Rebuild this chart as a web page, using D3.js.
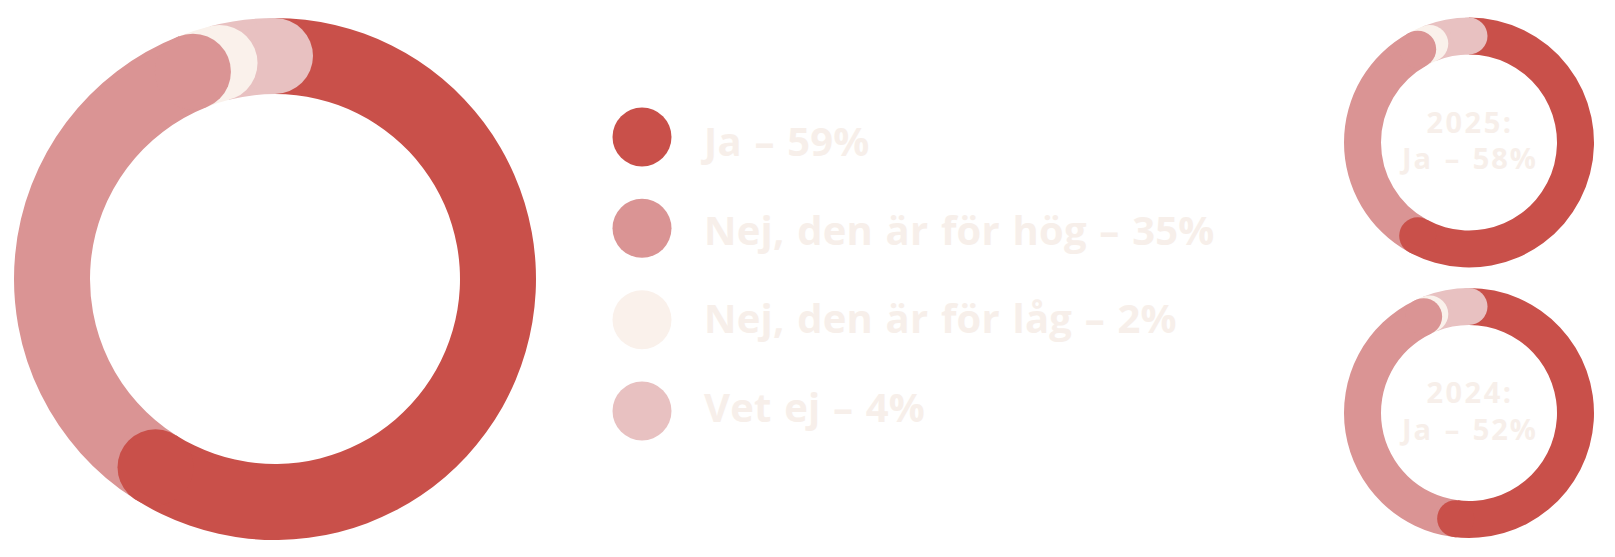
<!DOCTYPE html>
<html><head><meta charset="utf-8">
<script src="https://cdn.jsdelivr.net/npm/d3@7"></script>
<style>body{margin:0;background:#fff}svg{display:block}</style>
</head><body>
<svg id="c" width="1615" height="557"></svg>
<script>
// ---- data ----
const categories = ["Ja", "Nej, den är för hög", "Nej, den är för låg", "Vet ej"];
const mainValues = [59, 35, 2, 4];
const values2025 = [58, 34, 2, 6];
const values2024 = [52, 41, 1, 6];
const smallYears = ["2025:", "2024:"];
const smallJa = ["Ja – 58%", "Ja – 52%"];

// ---- styles ----
const colors = ["#c9504a", "#da9494", "#faf1eb", "#e8c1c1"];
const textColor = "#f7efea";
const font = "'Open Sans', Lato, sans-serif";

const svg = d3.select("#c");
svg.append("rect").attr("width", 1615).attr("height", 557).attr("fill", "#fff");

function donut(cx, cy, rOuter, rInner, values) {
  const g = svg.append("g").attr("transform", `translate(${cx},${cy})`);
  const angle = d3.scaleLinear().domain([0, d3.sum(values)]).range([0, 2 * Math.PI]);
  const ends = Array.from(d3.cumsum(values));
  const segs = values.map((v, i) => ({ i, a0: angle(ends[i] - v), a1: angle(ends[i]) }));
  const arc = d3.arc().innerRadius(rInner).outerRadius(rOuter);
  g.selectAll("path.seg").data(segs).join("path")
    .attr("class", "seg")
    .attr("d", d => arc({ startAngle: d.a0, endAngle: d.a1 }))
    .attr("fill", d => colors[d.i]);
  const rMid = (rOuter + rInner) / 2, capR = (rOuter - rInner) / 2;
  g.selectAll("circle.cap").data(segs.slice().reverse()).join("circle")
    .attr("class", "cap")
    .attr("cx", d => rMid * Math.sin(d.a1))
    .attr("cy", d => -rMid * Math.cos(d.a1))
    .attr("r", capR)
    .attr("fill", d => colors[d.i]);
  return g;
}

// big donut
donut(275, 279, 261, 185, mainValues);

// legend
const legendY = d3.scalePoint().domain(categories).range([137, 411]);
const legendTextY = d3.scalePoint().domain(categories).range([156, 422]);
const lg = svg.append("g");
lg.selectAll("circle").data(categories).join("circle")
  .attr("cx", 642).attr("cy", d => legendY(d)).attr("r", 29.5)
  .attr("fill", (d, i) => colors[i]);
lg.selectAll("text").data(categories).join("text")
  .attr("x", 704).attr("y", d => legendTextY(d))
  .attr("font-family", font).attr("font-weight", 700).attr("font-size", 40)
  .attr("letter-spacing", 0.2).attr("word-spacing", 2)
  .attr("fill", textColor)
  .text((d, i) => `${d} – ${mainValues[i]}%`);

// small donuts
const smallY = d3.scalePoint().domain(smallYears).range([142.5, 413]);
[values2025, values2024].forEach((vals, k) => {
  const cy = smallY(smallYears[k]);
  const g = donut(1469, cy, 125, 88, vals);
  g.append("text").attr("x", 1).attr("y", -10).attr("text-anchor", "middle")
    .attr("font-family", font).attr("font-weight", 700).attr("font-size", 29)
    .attr("letter-spacing", 2.5)
    .attr("fill", textColor).text(smallYears[k]);
  g.append("text").attr("x", 1).attr("y", 26.5).attr("text-anchor", "middle")
    .attr("font-family", font).attr("font-weight", 700).attr("font-size", 29)
    .attr("letter-spacing", 2).attr("word-spacing", 2)
    .attr("fill", textColor).text(smallJa[k]);
});
</script>
</body></html>
